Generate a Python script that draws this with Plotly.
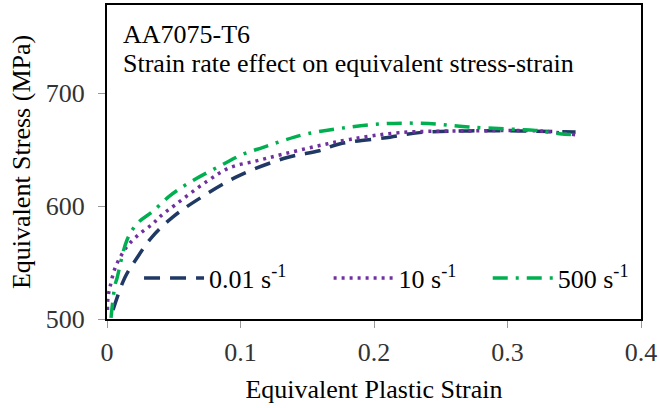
import plotly.graph_objects as go

# Data
strain_001 = [0.0045, 0.0135, 0.0224, 0.034, 0.049, 0.067, 0.099, 0.135, 0.159, 0.174, 0.212, 0.234, 0.271, 0.309, 0.351]
stress_001 = [508, 537, 554, 573, 590, 605, 627, 643, 649, 655, 661, 665, 666.5, 666.5, 665.6]

strain_10 = [0.0004, 0.0007, 0.0022, 0.006, 0.012, 0.017, 0.025, 0.034, 0.040, 0.051, 0.075, 0.092, 0.112, 0.132, 0.157, 0.182, 0.219, 0.271, 0.324, 0.351]
stress_10 = [508, 519, 528, 545, 559, 567, 576, 584, 591, 601, 622, 634, 640, 646, 653, 659, 665, 666.5, 666.5, 663]

strain_500 = [0.003, 0.006, 0.0075, 0.015, 0.023, 0.034, 0.047, 0.062, 0.087, 0.102, 0.117, 0.132, 0.150, 0.176, 0.209, 0.241, 0.271, 0.304, 0.321, 0.339, 0.352]
stress_500 = [501, 530, 536, 570, 585, 595, 609, 621, 637, 646, 652, 658, 664, 669, 673, 673, 670, 668, 667, 664, 663]

series_names = ["0.01 s<sup>-1</sup>", "10 s<sup>-1</sup>", "500 s<sup>-1</sup>"]
x_ticks = [0, 0.1, 0.2, 0.3, 0.4]
x_tick_labels = ["0", "0.1", "0.2", "0.3", "0.4"]
y_ticks = [500, 600, 700]

FONT = "Liberation Serif, Times New Roman, serif"
FS = 26

fig = go.Figure()
fig.add_trace(go.Scatter(x=strain_001, y=stress_001, mode="lines", name=series_names[0],
                         line=dict(color="#1F3864", width=3.5, dash="16px,10px", shape="spline"),
                         legend="legend", showlegend=True))
fig.add_trace(go.Scatter(x=strain_10, y=stress_10, mode="lines", name=series_names[1],
                         line=dict(color="#7030A0", width=3.5, dash="3px,5px", shape="spline"),
                         legend="legend2", showlegend=True))
fig.add_trace(go.Scatter(x=strain_500, y=stress_500, mode="lines", name=series_names[2],
                         line=dict(color="#00B050", width=3.5, dash="15px,8px,3px,8px", shape="spline"),
                         legend="legend3", showlegend=True))

leg_common = dict(orientation="h", bgcolor="rgba(0,0,0,0)", font=dict(family=FONT, size=FS, color="#000"),
                  yanchor="middle", xanchor="left", itemwidth=60)

fig.update_layout(
    width=660, height=408,
    showlegend=True,
    margin=dict(l=107, r=18, t=3, b=89),
    paper_bgcolor="white", plot_bgcolor="white",
    font=dict(family=FONT, size=FS, color="#000"),
    legend=dict(x=0.06, y=0.13, **leg_common),
    legend2=dict(x=0.415, y=0.13, **leg_common),
    legend3=dict(x=0.713, y=0.13, **leg_common),
    xaxis=dict(range=[0, 0.4], tickvals=x_ticks, ticktext=x_tick_labels,
               showline=True, linecolor="#000", linewidth=2, mirror=True,
               ticks="outside", ticklen=7, tickcolor="#999", showgrid=False, zeroline=False,
               ticklabelstandoff=2,
               tickfont=dict(family=FONT, size=FS, color="#333"),
               title=dict(text="Equivalent Plastic Strain", font=dict(family=FONT, size=FS, color="#000"), standoff=14)),
    yaxis=dict(range=[500, 778], tickvals=y_ticks,
               showline=True, linecolor="#000", linewidth=2, mirror=True,
               ticks="outside", ticklen=7, tickcolor="#999", showgrid=False, zeroline=False,
               ticklabelstandoff=8,
               tickfont=dict(family=FONT, size=FS, color="#333")),
)

fig.add_annotation(text="Equivalent Stress (MPa)", xref="paper", yref="paper", x=-0.161, y=0.5,
                   xanchor="center", yanchor="middle", textangle=-90, showarrow=False,
                   font=dict(family=FONT, size=FS, color="#000"))
fig.add_annotation(text="AA7075-T6", xref="paper", yref="paper", x=0.026, y=0.905,
                   xanchor="left", yanchor="middle", showarrow=False,
                   font=dict(family=FONT, size=FS, color="#000"))
fig.add_annotation(text="Strain rate effect on equivalent stress-strain", xref="paper", yref="paper",
                   x=0.026, y=0.813, xanchor="left", yanchor="middle", showarrow=False,
                   font=dict(family=FONT, size=FS, color="#000"))

fig.write_html("out.html")
